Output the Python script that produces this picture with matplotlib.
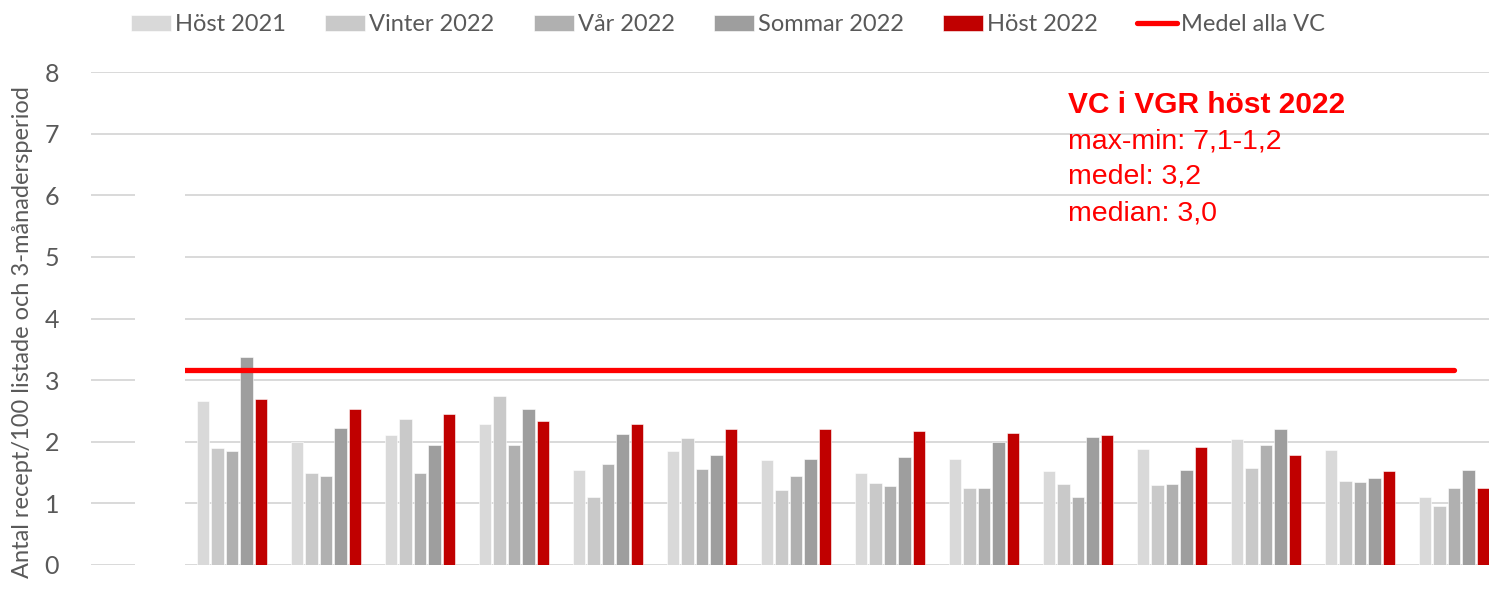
import matplotlib.pyplot as plt
import matplotlib.patches as mpatches
import numpy as np

# first category is empty (hidden behind white box in the original)
n_cat = 15
series_names = ["Höst 2021", "Vinter 2022", "Vår 2022", "Sommar 2022", "Höst 2022"]
series_colors = ["#D9D9D9", "#C9C9C9", "#B0B0B0", "#9E9E9E", "#C00000"]

host_2021 = [np.nan, 2.66, 2.00, 2.11, 2.29, 1.54, 1.85, 1.70, 1.49, 1.72, 1.52, 1.88, 2.04, 1.87, 1.11]
vinter_2022 = [np.nan, 1.90, 1.50, 2.37, 2.74, 1.11, 2.06, 1.22, 1.33, 1.25, 1.31, 1.30, 1.57, 1.37, 0.96]
var_2022 = [np.nan, 1.85, 1.44, 1.50, 1.94, 1.64, 1.56, 1.44, 1.28, 1.25, 1.10, 1.31, 1.94, 1.34, 1.25]
sommar_2022 = [np.nan, 3.38, 2.23, 1.94, 2.53, 2.13, 1.78, 1.72, 1.75, 1.99, 2.07, 1.54, 2.21, 1.41, 1.54]
host_2022 = [np.nan, 2.69, 2.53, 2.45, 2.33, 2.28, 2.21, 2.21, 2.18, 2.14, 2.11, 1.92, 1.78, 1.52, 1.25]
medel_alla_vc = 3.16

series = [host_2021, vinter_2022, var_2022, sommar_2022, host_2022]

info_title = "VC i VGR höst 2022"
info_lines = ["max-min: 7,1-1,2", "medel: 3,2", "median: 3,0"]

txt_color = "#595959"

fig = plt.figure(figsize=(14.89, 6.0), dpi=100)
ax = fig.add_axes([91 / 1489, 35 / 600, 1410 / 1489, 493 / 600])

x = np.arange(n_cat)
stride = 0.154
width = 0.13
handles = []
for i, (vals, name, col) in enumerate(zip(series, series_names, series_colors)):
    b = ax.bar(x + (i - 2) * stride, vals, width=width, color=col, label=name,
               edgecolor="white", linewidth=0.4, zorder=2)
    handles.append(b)

ln, = ax.plot([x[0], x[-1]], [medel_alla_vc, medel_alla_vc], color="#FF0000", lw=3.8,
              solid_capstyle="round", label="Medel alla VC", zorder=3)
handles.append(ln)

ax.set_xlim(-0.5, n_cat - 0.5)
ax.set_ylim(0, 8)
ax.set_yticks(range(0, 9))
ax.yaxis.grid(True, color="#D9D9D9", lw=1.4, zorder=0)
ax.set_axisbelow(True)
for s in ax.spines.values():
    s.set_visible(False)
ax.set_xticks([])
ax.tick_params(axis="y", length=0, labelsize=18, labelcolor=txt_color, pad=23)
for lab in ax.get_yticklabels():
    lab.set_fontfamily("Lato")
ax.set_ylabel("Antal recept/100 listade och 3-månadersperiod", fontsize=17,
              color=txt_color, family="Lato")
ax.yaxis.set_label_coords(-0.041, 0.473)

# white box covering the first category, as in the original
fig.patches.append(mpatches.Rectangle((135 / 1489, 0), 50 / 1489, 440 / 600,
                                      transform=fig.transFigure, facecolor="white",
                                      edgecolor="none", zorder=10))

fig.text(1068 / 1489, 1 - 105 / 600, info_title, color="#FF0000", fontsize=21.5,
         fontweight="bold", family="Liberation Sans", va="center", ha="left")
for k, line in enumerate(info_lines):
    fig.text(1068 / 1489, 1 - (141 + 36 * k) / 600, line, color="#FF0000",
             fontsize=20.5, family="Liberation Sans", va="center", ha="left")

leg = fig.legend(handles, series_names + ["Medel alla VC"], loc="upper center",
                 bbox_to_anchor=(0.489, 1.012), ncol=6, frameon=False,
                 handlelength=1.7, handletextpad=0.18, columnspacing=1.65,
                 prop={"family": "Lato", "size": 17})
for t in leg.get_texts():
    t.set_color(txt_color)

fig.savefig("out.png", dpi=100)
